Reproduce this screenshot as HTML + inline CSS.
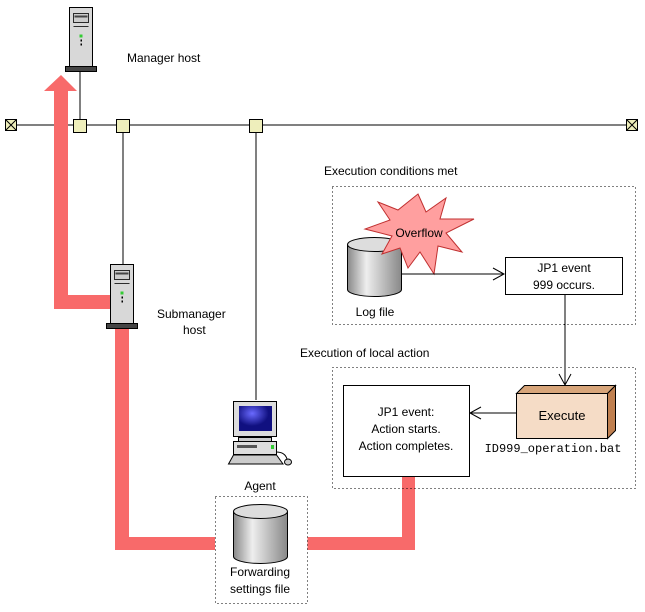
<!DOCTYPE html>
<html><head><style>
body{margin:0;background:#fff;width:645px;height:607px;overflow:hidden}
svg{font-family:"Liberation Sans",sans-serif;font-size:12px}
</style></head><body>
<svg width="645" height="607" viewBox="0 0 645 607">
<defs>
<linearGradient id="cyl" x1="0" x2="1"><stop offset="0" stop-color="#888"/><stop offset="0.35" stop-color="#eee"/><stop offset="1" stop-color="#888"/></linearGradient>
<radialGradient id="scr" cx="0.4" cy="0.3"><stop offset="0" stop-color="#6a6aff"/><stop offset="1" stop-color="#101080"/></radialGradient>
<g id="srv">
<rect x="0" y="0" width="23" height="59" fill="#d8d8d8" stroke="#000"/>
<rect x="4" y="6" width="15" height="9" fill="#ccc" stroke="#000" stroke-width="0.8"/>
<rect x="5" y="8" width="13" height="2" fill="#444"/>
<line x1="4" y1="19" x2="19" y2="19" stroke="#000" stroke-width="0.8"/>
<rect x="10" y="27" width="3" height="3" fill="#3c3"/>
<rect x="11" y="32" width="1.5" height="2" fill="#000"/><rect x="11" y="36" width="1.5" height="2" fill="#000"/>
<rect x="-4" y="59" width="31" height="5" fill="#444" stroke="#000"/>
</g>
<g id="cy">
<path d="M0 7 V52 A27 7 0 0 0 54 52 V7" fill="url(#cyl)" stroke="#000"/>
<ellipse cx="27" cy="7" rx="27" ry="7" fill="#ddd" stroke="#000"/>
</g>
</defs>
<!-- bus -->
<line x1="11" y1="125" x2="632" y2="125" stroke="#000"/>
<g stroke="#000" fill="#eeeebb">
<rect x="5.5" y="119.5" width="11" height="11"/><path d="M5.5 119.5 L16.5 130.5 M16.5 119.5 L5.5 130.5"/>
<rect x="626.5" y="119.5" width="11" height="11"/><path d="M626.5 119.5 L637.5 130.5 M637.5 119.5 L626.5 130.5"/>
</g>
<line x1="80" y1="71" x2="80" y2="119" stroke="#000"/>
<line x1="123" y1="131" x2="123" y2="264" stroke="#000"/>
<line x1="256" y1="131" x2="256" y2="400" stroke="#000"/>
<g stroke="#000" fill="#eeeebb">
<rect x="73.5" y="119.5" width="13" height="13"/>
<rect x="116.5" y="119.5" width="13" height="13"/>
<rect x="249.5" y="119.5" width="13" height="13"/>
</g>
<!-- red paths -->
<g fill="#f86a6a">
<polygon points="44,91 54,91 54,309 110,309 110,295 68,295 68,91 77,91 61,75"/>
<rect x="115" y="328" width="14" height="222"/>
<rect x="115" y="537" width="100" height="13"/>
<rect x="307" y="537" width="108" height="13"/>
<rect x="402" y="476" width="13" height="74"/>
</g>
<use href="#srv" x="69.5" y="7.5"/>
<use href="#srv" x="110.5" y="264.5"/>
<text x="127" y="62">Manager host</text>
<text x="157" y="318">Submanager</text>
<text x="183" y="334">host</text>
<!-- agent PC -->
<g stroke="#000">
<rect x="233.5" y="401.5" width="43" height="35" fill="#ddd"/>
<rect x="239" y="406" width="33" height="25" fill="url(#scr)" stroke="none"/>
<rect x="238.5" y="437.5" width="33" height="4" fill="#ccc"/>
<rect x="233.5" y="441.5" width="43" height="13" fill="#ddd"/>
<rect x="237" y="445" width="20" height="3" fill="#555" stroke="none"/>
<rect x="271" y="445" width="3" height="4" fill="#3c3" stroke="none"/>
<polygon points="233.5,455 276.5,455 283,464 228.5,464" fill="#ccc"/>
<ellipse cx="288" cy="462" rx="3.5" ry="3" fill="#ccc"/>
<path d="M276 452 Q285 452 287 459" fill="none"/>
</g>
<text x="260" y="490" text-anchor="middle">Agent</text>
<!-- forwarding -->
<rect x="215.5" y="496.5" width="92" height="107" fill="#fff" stroke="#000" stroke-dasharray="1,3"/>
<use href="#cy" x="233.5" y="504.5"/>
<text x="260" y="576" text-anchor="middle">Forwarding</text>
<text x="260" y="593" text-anchor="middle">settings file</text>
<!-- box1 -->
<text x="324" y="175">Execution conditions met</text>
<rect x="332.5" y="186.5" width="303" height="138" fill="none" stroke="#000" stroke-dasharray="1,3"/>
<use href="#cy" x="347.5" y="237.5"/>
<polygon fill="#ff9f9f" stroke="#c03030" points="418,194 426,212 446,198 440,219 474,219 446,233 462,252 438,246 434,274 420,252 408,268 400,248 382,254 392,236 365,229 390,220 378,202 398,210" transform="translate(0,0)"/>
<text x="419" y="237" text-anchor="middle">Overflow</text>
<text x="375" y="316" text-anchor="middle">Log file</text>
<line x1="401" y1="274" x2="504" y2="274" stroke="#000"/>
<path d="M493 268 L504 274 L493 280" fill="none" stroke="#000"/>
<rect x="505.5" y="257.5" width="117" height="37" fill="#fff" stroke="#000"/>
<text x="564" y="272" text-anchor="middle">JP1 event</text>
<text x="564" y="289" text-anchor="middle">999 occurs.</text>
<line x1="565" y1="295" x2="565" y2="385" stroke="#000"/>
<path d="M559 374 L565 385 L571 374" fill="none" stroke="#000"/>
<!-- box2 -->
<text x="300" y="357">Execution of local action</text>
<rect x="332.5" y="367.5" width="303" height="121" fill="none" stroke="#000" stroke-dasharray="1,3"/>
<rect x="343.5" y="385.5" width="126" height="91" fill="#fff" stroke="#000"/>
<text x="406" y="416" text-anchor="middle">JP1 event:</text>
<text x="406" y="433" text-anchor="middle">Action starts.</text>
<text x="406" y="450" text-anchor="middle">Action completes.</text>
<polygon points="516.5,393.5 524.5,385.5 615.5,385.5 607.5,393.5" fill="#d7a57a" stroke="#000"/>
<polygon points="607.5,393.5 615.5,385.5 615.5,430.5 607.5,438.5" fill="#c08050" stroke="#000"/>
<rect x="516.5" y="393.5" width="91" height="45" fill="#f5dcc6" stroke="#000"/>
<text x="562" y="420" text-anchor="middle" font-size="13">Execute</text>
<line x1="516" y1="413" x2="470" y2="413" stroke="#000"/>
<path d="M481 407 L470 413 L481 419" fill="none" stroke="#000"/>
<text x="553" y="452" text-anchor="middle" font-family="Liberation Mono,monospace" font-size="12">ID999_operation.bat</text>
</svg>
</body></html>
